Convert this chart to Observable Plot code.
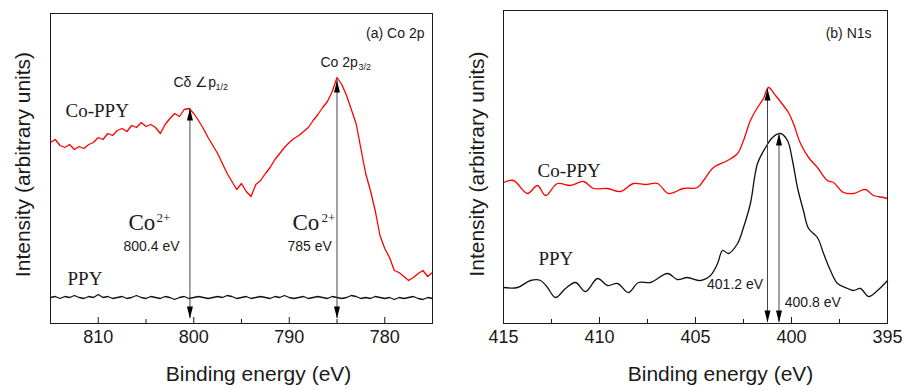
<!DOCTYPE html>
<html><head><meta charset="utf-8">
<script src="https://cdn.jsdelivr.net/npm/d3@7"></script>
<script src="https://cdn.jsdelivr.net/npm/@observablehq/plot@0.6"></script>
<style>
html,body{margin:0;padding:0;background:#fff;}
#wrap{position:relative;width:902px;height:390px;overflow:hidden;background:#fff;}
#left,#right{position:absolute;top:0;}
#left{left:0}#right{left:451px}
</style></head><body>
<div id="wrap"><div id="left"></div><div id="right"></div></div>
<script>
// ---------- Panel (a) Co 2p ----------
const leftEnergy = [815,814.5,814,813.5,813,812.5,812,811.5,811,810.5,
  810,809.5,809,808.5,808,807.5,807,806.5,806,805.5,
  805,804.5,804,803.5,803,802.5,802,801.5,801,800.5,
  800,799.5,799,798.5,798,797.5,797,796.5,796,795.5,
  795,794.5,794,793.5,793,792.5,792,791.5,791,790.5,
  790,789.5,789,788.5,788,787.5,787,786.5,786,785.5,
  785,784.5,784,783.5,783,782.5,782,781.5,781,780.5,
  780,779.5,779,778.5,778,777.5,777,776.5,776,775.5,
  775];
const leftCoPPY = [181,184,178,176,179,174,177,175,179,181,
  186,184,190,188,193,195,192,198,196,201,
  197,199,196,190,199,205,210,207,214,215,
  210,203,195,186,178,170,160,150,142,134,
  140,132,127,139,143,150,156,164,170,176,
  181,185,188,192,196,203,209,216,222,232,
  246,239,228,214,200,175,150,133,113,88,
  75,66,53,51,47,43,46,50,53,47,
  51];
const leftPPY = [26,27,25,27,26,28,26,25,27,26,
  29,26,27,25,26,27,25,26,28,26,
  25,27,26,25,27,26,24,26,27,25,
  26,27,26,25,26,27,26,28,27,25,
  26,27,25,26,27,26,25,27,26,28,
  26,25,26,27,25,26,27,26,25,27,
  26,25,26,28,27,25,26,25,27,26,
  25,26,24,26,25,26,27,25,24,26,
  25];
const leftMajorTicks = [810, 800, 790, 780];
const leftMinorTicks = [805, 795, 785];
const leftArrowEnergy = [800.4, 785];
const leftArrowTop = [215, 243];
const leftArrowBottom = [5, 5];

// ---------- Panel (b) N1s ----------
const rightCoEnergy = [415.0,414.48,413.75,413.23,412.81,412.19,411.51,410.83,410.31,409.58,
  408.91,408.23,407.6,406.98,406.41,405.63,404.90,404.58,404.06,403.33,
  402.81,402.50,402.14,401.77,401.46,401.20,400.83,400.42,400.16,399.90,
  399.53,399.11,398.65,398.13,397.81,397.29,396.77,396.15,395.73,395.21,395.0];
const rightCoPPY = [141,143,130,138,128,140,138,142,135,135,
  132,140,139,140,130,135,136,143,156,163,
  170,183,203,216,225,236,228,218,211,200,
  180,166,156,143,141,131,130,134,128,126,125];
const rightPPYEnergy = [415.00,414.27,413.59,413.07,412.71,412.29,411.77,411.25,410.73,410.10,
  409.58,409.06,408.49,407.97,407.34,406.46,405.94,405.42,404.74,404.22,
  403.85,403.59,403.28,402.81,402.50,402.14,401.77,401.35,400.99,400.57,
  400.21,399.95,399.69,399.38,399.11,398.65,398.33,397.97,397.60,397.08,
  396.77,396.41,395.99,395.52,395.00];
const rightPPY = [36,36,43,43,36,26,35,41,32,45,
  38,40,31,41,41,50,44,46,43,48,
  60,73,70,80,96,120,160,176,186,190,
  183,163,136,113,95,86,70,53,40,35,
  33,35,27,33,43];
const rightMajorTicks = [415, 410, 405, 400, 395];
const rightMinorTicks = [412.5, 407.5, 402.5, 397.5];
const rightArrowEnergy = [401.25, 400.65];
const rightArrowTop = [235, 190];
const rightArrowBottom = [1, 1];

const sans = "'Liberation Sans', Arial, sans-serif";
const serif = "'Liberation Serif', 'Times New Roman', serif";
const ink = "#1a1a1a";
const arrowUp = {draw(c){c.moveTo(0,0);c.lineTo(3,12);c.lineTo(-3,12);c.closePath();}};
const arrowDown = {draw(c){c.moveTo(0,0);c.lineTo(3,-12);c.lineTo(-3,-12);c.closePath();}};

function txt(s, x, y, opts) {
  return Plot.text([s], Object.assign({x, y, text: d => d, textAnchor: "start", fill: ink, fontFamily: sans, fontSize: 14}, opts || {}));
}

// Left
const leftData = leftEnergy.map((e, i) => ({e, co: leftCoPPY[i], ppy: leftPPY[i]}));
const leftArrows = leftArrowEnergy.map((e, i) => ({e, top: leftArrowTop[i], bottom: leftArrowBottom[i]}));
const leftPlot = Plot.plot({
  width: 451, height: 390,
  marginLeft: 50, marginRight: 19, marginTop: 13, marginBottom: 67,
  x: {domain: [815, 775], axis: null},
  y: {domain: [0, 310], axis: null},
  style: {fontFamily: sans, background: "white", overflow: "visible"},
  marks: [
    Plot.ruleX(leftMajorTicks, {x: d => d, y1: 0, y2: 6, stroke: ink}),
    Plot.ruleX(leftMinorTicks, {x: d => d, y1: 0, y2: 4, stroke: ink}),
    Plot.text(leftMajorTicks, {x: d => d, text: d => String(d), frameAnchor: "bottom", dy: 19, fontSize: 18, fill: ink}),
    Plot.text(["Binding energy (eV)"], {frameAnchor: "bottom", dy: 57, dx: 17, fontSize: 21, fill: ink, textAnchor: "middle"}),
    Plot.text(["Intensity (arbitrary units)"], {frameAnchor: "left", dx: -27, dy: -4, rotate: -90, fontSize: 21, fill: ink, textAnchor: "middle"}),
    Plot.line(leftData, {x: "e", y: "ppy", stroke: "#111", strokeWidth: 1.3}),
    Plot.line(leftData, {x: "e", y: "co", stroke: "#ff0000", strokeWidth: 1.3}),
    Plot.ruleX(leftArrows, {x: "e", y1: "bottom", y2: "top", stroke: "#444", strokeWidth: 1}),
    Plot.dot(leftArrows, {x: "e", y: "top", symbol: arrowUp, fill: "#000", stroke: null}),
    Plot.dot(leftArrows, {x: "e", y: "bottom", symbol: arrowDown, fill: "#000", stroke: null}),
    txt("(a) Co 2p", 775.84, 290, {textAnchor: "end"}),
    txt("Co 2p", 786.73, 261),
    txt("3/2", 782.75, 256, {fontSize: 9}),
    txt("C\u03b4 \u2220p", 802.12, 241),
    txt("1/2", 797.72, 236, {fontSize: 9}),
    txt("Co-PPY", 813.43, 213, {fontFamily: serif, fontSize: 19}),
    txt("PPY", 813.22, 45, {fontFamily: serif, fontSize: 19}),
    txt("Co", 806.83, 101, {fontFamily: serif, fontSize: 23}),
    txt("2+", 803.9, 106, {fontFamily: serif, fontSize: 13}),
    txt("800.4 eV", 807.36, 77),
    txt("Co", 789.66, 101, {fontFamily: serif, fontSize: 23}),
    txt("2+", 786.62, 106, {fontFamily: serif, fontSize: 13}),
    txt("785 eV", 790.18, 77),
    Plot.frame({stroke: ink, strokeWidth: 1})
  ]
});
document.getElementById("left").append(leftPlot);

// Right
const rightCo = rightCoEnergy.map((e, i) => ({e, v: rightCoPPY[i]}));
const rightPp = rightPPYEnergy.map((e, i) => ({e, v: rightPPY[i]}));
const rightArrows = rightArrowEnergy.map((e, i) => ({e, top: rightArrowTop[i], bottom: rightArrowBottom[i]}));
const rightPlot = Plot.plot({
  width: 451, height: 390,
  marginLeft: 52, marginRight: 15, marginTop: 10, marginBottom: 67,
  x: {domain: [415, 395], axis: null},
  y: {domain: [0, 313], axis: null},
  style: {fontFamily: sans, background: "white", overflow: "visible"},
  marks: [
    Plot.ruleX(rightMajorTicks, {x: d => d, y1: 0, y2: 6, stroke: ink}),
    Plot.ruleX(rightMinorTicks, {x: d => d, y1: 0, y2: 4, stroke: ink}),
    Plot.text(rightMajorTicks, {x: d => d, text: d => String(d), frameAnchor: "bottom", dy: 19, fontSize: 18, fill: ink}),
    Plot.text(["Binding energy (eV)"], {frameAnchor: "bottom", dy: 57, dx: 25, fontSize: 21, fill: ink, textAnchor: "middle"}),
    Plot.text(["Intensity (arbitrary units)"], {frameAnchor: "left", dx: -26, dy: -3, rotate: -90, fontSize: 21, fill: ink, textAnchor: "middle"}),
    Plot.line(rightPp, {x: "e", y: "v", stroke: "#111", strokeWidth: 1.3, curve: "catmull-rom"}),
    Plot.line(rightCo, {x: "e", y: "v", stroke: "#ff0000", strokeWidth: 1.3, curve: "catmull-rom"}),
    Plot.ruleX(rightArrows, {x: "e", y1: "bottom", y2: "top", stroke: "#444", strokeWidth: 1}),
    Plot.dot(rightArrows, {x: "e", y: "top", symbol: arrowUp, fill: "#000", stroke: null}),
    Plot.dot(rightArrows, {x: "e", y: "bottom", symbol: arrowDown, fill: "#000", stroke: null}),
    txt("(b) N1s", 395.83, 290, {textAnchor: "end"}),
    txt("Co-PPY", 413.23, 153, {fontFamily: serif, fontSize: 19}),
    txt("PPY", 413.18, 65, {fontFamily: serif, fontSize: 19}),
    txt("401.2 eV", 404.40, 39),
    txt("400.8 eV", 400.35, 21),
    Plot.frame({stroke: ink, strokeWidth: 1})
  ]
});
document.getElementById("right").append(rightPlot);
</script>
</body></html>
